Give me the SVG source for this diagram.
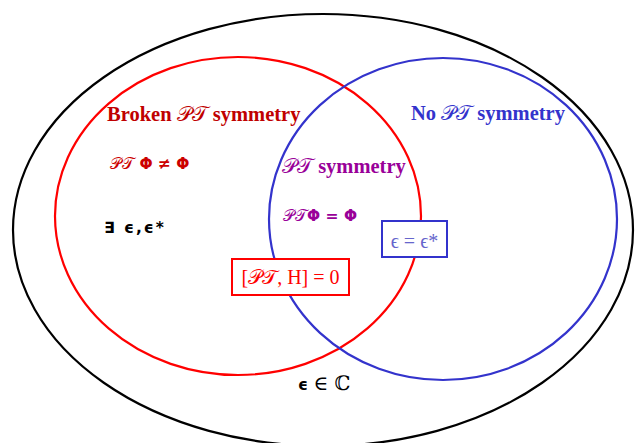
<svg xmlns="http://www.w3.org/2000/svg" width="638" height="443" viewBox="0 0 638 443">
<style>
.set{fill:none;stroke-width:2.2}
.h{font-family:"Liberation Serif","DejaVu Serif",serif;font-weight:bold;font-size:20.5px}
.m{font-family:"DejaVu Sans","Liberation Sans",sans-serif;font-weight:bold;font-size:15.5px}
.s{font-family:"Liberation Serif","DejaVu Serif",serif;font-size:20px}
.sc{font-weight:normal;font-family:"DejaVu Serif",serif}
.box{fill:#fff;stroke-width:2}
</style>
<rect width="638" height="443" fill="#fff"/>
<g id="universe">
<ellipse class="set" cx="323" cy="230" rx="310" ry="216" stroke="#000"/>
<text class="m" x="298" y="390" fill="#000" font-size="18">ϵ <tspan font-weight="normal" font-family="DejaVu Serif,serif" font-size="20">∈ ℂ</tspan></text>
</g>
<g id="broken">
<ellipse class="set" cx="238" cy="216" rx="183" ry="159" stroke="#ff0000"/>
<text class="h" x="107" y="121" fill="#c00000">Broken <tspan class="sc">𝒫𝒯</tspan> symmetry</text>
<text class="m" x="110" y="169" fill="#cc0000"><tspan class="sc">𝒫𝒯</tspan> Φ ≠ Φ</text>
<text class="m" x="104" y="233" fill="#000" font-size="21" letter-spacing="2">∃ ϵ,ϵ*</text>
</g>
<g id="nosym">
<ellipse class="set" cx="443" cy="219" rx="174" ry="161" stroke="#3333cc"/>
<text class="h" x="411" y="120" fill="#3333cc">No <tspan class="sc">𝒫𝒯</tspan> symmetry</text>
</g>
<g id="ptsym">
<text class="h" x="282" y="173" fill="#990099"><tspan class="sc">𝒫𝒯</tspan> symmetry</text>
<text class="m" x="283" y="221" fill="#990099"><tspan class="sc">𝒫𝒯</tspan>Φ = Φ</text>
</g>
<g id="box-eps">
<rect class="box" x="382" y="221" width="65" height="36" stroke="#3333cc"/>
<text class="s" x="414.5" y="248" fill="#6666cc" text-anchor="middle" font-size="25">ϵ = ϵ*</text>
</g>
<g id="box-comm">
<rect class="box" x="232" y="259" width="117" height="36" stroke="#ff0000"/>
<text class="s" x="290.5" y="284" fill="#ff0000" text-anchor="middle">[<tspan font-family="DejaVu Serif,serif">𝒫𝒯</tspan>, H] = 0</text>
</g>
<g id="connectors"/>
</svg>
